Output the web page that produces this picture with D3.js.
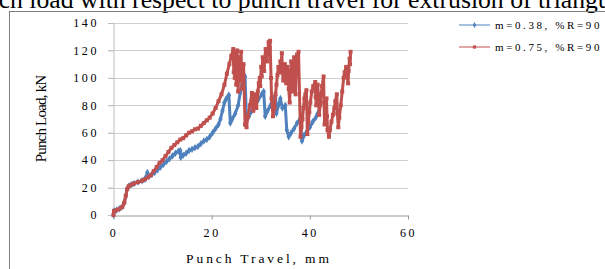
<!DOCTYPE html>
<html>
<head>
<meta charset="utf-8">
<script src="https://cdn.jsdelivr.net/npm/d3@7"></script>
<style>
  body { margin: 0; background: #fff; overflow: hidden; }
  svg { display: block; }
</style>
</head>
<body>
<script>
// Chart values
var titleText = "Punch load with respect to punch travel for extrusion of triangular section";
var xLabel = "Punch Travel, mm";
var yLabel = "Punch Load, kN";
var xTicks = [0, 20, 40, 60];
var yTicks = [0, 20, 40, 60, 80, 100, 120, 140];
var seriesNames = ["m=0.38, %R=90", "m=0.75, %R=90"];

// m=0.38 (blue) - [punch travel, punch load]
var blueData = [
  [0, 0], [0.1, 3], [0.6, 3.5], [1.2, 4.5], [1.8, 6], [2.2, 9], [2.5, 14], [2.8, 19], [3.1, 21],
  [3.6, 22], [4.2, 23], [5, 24], [5.8, 25], [6.4, 26], [6.9, 31], [7.2, 28], [7.8, 29.5],
  [8.4, 31], [9, 33], [9.6, 35], [10.2, 37], [10.8, 39], [11.4, 41], [12, 43], [12.6, 45],
  [13.2, 46.5], [13.6, 47], [13.7, 42], [14.2, 43.5], [14.8, 45], [15.4, 47], [16, 48],
  [16.6, 49], [17.2, 50], [17.8, 52], [18.4, 54], [19, 55], [19.6, 57], [20.2, 60], [20.8, 63],
  [21.4, 66], [21.8, 70], [22.2, 76], [22.6, 82], [23, 85], [23.5, 87.5], [23.8, 67], [24.2, 70],
  [24.8, 74], [25.4, 80], [25.8, 89], [26.2, 95], [26.5, 99], [26.8, 101], [27.1, 69], [27.6, 72],
  [28.2, 76], [28.8, 80], [29.5, 84], [30.2, 88], [30.6, 90], [30.9, 72], [31.4, 76], [32, 80],
  [32.6, 85], [33, 87], [33.2, 74], [33.6, 80], [34, 85], [34.4, 78], [35, 80], [35.3, 62],
  [35.7, 57], [36.2, 60], [36.8, 63], [37.4, 67], [38, 70], [38.4, 54], [38.8, 58], [39.4, 61],
  [40, 64], [40.6, 68], [41.2, 71], [41.6, 74]
];

// m=0.75 (red) - [punch travel, punch load]
var redData = [
  [0, 0], [0.1, 3], [0.6, 3.5], [1.2, 4.5], [1.8, 6], [2.2, 9], [2.5, 14], [2.8, 19], [3.1, 21],
  [3.6, 22], [4.2, 23], [5, 24], [5.8, 25], [6.4, 26], [7, 27.5], [7.6, 29], [8.2, 32], [8.8, 35],
  [9.4, 38], [10, 40], [10.6, 43], [11.2, 46], [11.8, 49], [12.4, 51], [13, 53], [13.6, 55],
  [14.2, 56], [14.8, 58], [15.4, 60], [16, 61], [16.6, 62.5], [17.2, 63], [17.8, 65], [18.4, 67],
  [19, 69], [19.6, 71], [20.2, 74], [20.8, 78], [21.4, 83], [22, 88], [22.6, 95], [23.1, 103],
  [23.6, 110], [24, 116], [24.4, 121],
  [24.5, 104], [24.6, 112], [24.7, 100], [24.8, 118], [24.9, 108], [25, 95], [25.1, 111],
  [25.2, 120], [25.3, 104], [25.4, 90], [25.5, 103], [25.6, 115], [25.7, 106], [25.8, 98],
  [25.9, 110], [26, 119], [26.1, 104], [26.2, 92], [26.4, 102], [26.5, 110],
  [26.8, 66], [27.1, 64], [27.4, 72], [27.8, 80], [28.2, 89],
  [28.4, 80], [28.5, 76], [28.7, 84], [28.8, 88], [29, 82], [29.1, 78], [29.3, 86], [29.4, 90],
  [29.6, 96], [29.8, 100], [29.9, 94], [30.1, 108], [30.2, 101], [30.4, 115], [30.5, 109],
  [30.7, 105], [30.8, 114], [31, 121], [31.1, 116], [31.3, 112], [31.4, 119], [31.6, 126],
  [31.8, 122], [31.9, 127],
  [32.1, 100], [32.2, 85], [32.5, 72], [32.8, 78], [33, 88], [33.2, 95], [33.4, 102], [33.6, 108],
  [33.8, 104], [34, 112], [34.1, 106], [34.3, 118],
  [34.4, 104], [34.6, 98], [34.7, 106], [34.9, 110], [35, 101], [35.2, 96], [35.4, 108],
  [35.6, 104], [35.7, 92], [35.9, 82], [36, 96], [36.2, 112], [36.3, 101], [36.5, 90],
  [36.6, 104], [36.8, 115], [36.9, 100], [37.1, 88], [37.2, 103], [37.4, 117], [37.5, 108],
  [37.7, 119],
  [38.1, 57], [38.3, 64], [38.5, 70], [38.7, 78], [38.9, 85], [39.1, 88], [39.3, 91],
  [39.5, 59], [39.7, 68], [39.9, 75], [40.1, 82], [40.4, 90], [40.7, 94], [41.1, 97],
  [41.2, 86], [41.3, 80], [41.5, 90], [41.6, 95], [41.8, 82], [41.9, 73], [42.1, 80], [42.3, 88],
  [42.5, 94], [42.8, 101], [42.9, 82], [43, 66], [43.2, 76], [43.4, 85], [43.5, 72], [43.6, 62],
  [43.9, 57], [44.1, 62], [44.4, 68], [44.7, 73], [45, 78], [45.2, 83], [45.5, 88],
  [45.6, 74], [45.8, 64], [46, 71], [46.3, 80], [46.6, 90], [46.9, 100], [47.1, 104],
  [47.4, 108], [47.6, 101], [47.8, 96], [47.9, 105], [48.1, 114], [48.2, 110], [48.3, 119]
];

var width = 605, height = 269;
var font = "'Liberation Serif', 'Times New Roman', serif";

var svg = d3.select("body").append("svg")
    .attr("width", width)
    .attr("height", height);

var x = d3.scaleLinear().domain([0, 60]).range([113.5, 408]);
var y = d3.scaleLinear().domain([0, 140]).range([215, 23]);

// caption line cut off at the top of the picture
var title = svg.append("text")
    .attr("y", 8)
    .attr("font-family", font)
    .attr("font-size", "25.7px")
    .attr("fill", "#000")
    .text(titleText);
var shift = title.node().getSubStringLength(0, titleText.indexOf("with"));
title.attr("x", 80 - shift);

// chart frame
svg.append("rect")
    .attr("x", 9.5)
    .attr("y", 11.5)
    .attr("width", 700)
    .attr("height", 300)
    .attr("fill", "none")
    .attr("stroke", "#808080");

// horizontal gridlines
svg.append("g").selectAll("line")
    .data(yTicks.filter(d => d > 0))
    .enter().append("line")
    .attr("x1", 108).attr("x2", x(60))
    .attr("y1", d => Math.round(y(d)) + 0.5)
    .attr("y2", d => Math.round(y(d)) + 0.5)
    .attr("stroke", "#cfcfcf");

// y axis
var yAxis = d3.axisLeft(y).tickValues(yTicks).tickSize(5.5).tickPadding(9);
svg.append("g")
    .attr("transform", "translate(" + x(0) + ",0)")
    .call(yAxis)
    .call(g => g.select(".domain").attr("stroke", "#bdbdbd"))
    .call(g => g.selectAll(".tick line").attr("stroke", "#bdbdbd"))
    .call(g => g.selectAll("text")
        .attr("font-family", font)
        .attr("font-size", "12px")
        .attr("letter-spacing", "2.6px")
        .attr("fill", "#000"));

// x axis
var xAxis = d3.axisBottom(x).tickValues(xTicks).tickSize(4).tickSizeOuter(0).tickPadding(9);
svg.append("g")
    .attr("transform", "translate(0," + (Math.round(y(0)) + 0.5) + ")")
    .call(xAxis)
    .call(g => g.select(".domain").attr("stroke", "#9a9a9a"))
    .call(g => g.selectAll(".tick line").attr("stroke", "#9a9a9a"))
    .call(g => g.selectAll("text")
        .attr("font-family", font)
        .attr("font-size", "12px")
        .attr("letter-spacing", "2.6px")
        .attr("fill", "#000"));

// axis titles
svg.append("text")
    .attr("x", 259)
    .attr("y", 263)
    .attr("text-anchor", "middle")
    .attr("font-family", font)
    .attr("font-size", "13.5px")
    .attr("letter-spacing", "2.9px")
    .text(xLabel);

svg.append("text")
    .attr("transform", "translate(46,119) rotate(-90)")
    .attr("text-anchor", "middle")
    .attr("font-family", font)
    .attr("font-size", "15px")
    .attr("letter-spacing", "-0.8px")
    .text(yLabel);

// series
var line = d3.line()
    .x(d => x(d[0]))
    .y(d => y(d[1]));

var series = [
    { name: seriesNames[0], data: blueData, color: "#4f81bd", shape: d3.symbolDiamond },
    { name: seriesNames[1], data: redData, color: "#c0504d", shape: d3.symbolSquare }
];

series.forEach(function (s) {
    svg.append("path")
        .datum(s.data)
        .attr("d", line)
        .attr("fill", "none")
        .attr("stroke", s.color)
        .attr("stroke-width", 3)
        .attr("stroke-linejoin", "round");
    svg.append("g").selectAll("path")
        .data(s.data)
        .enter().append("path")
        .attr("transform", d => "translate(" + x(d[0]) + "," + y(d[1]) + ")")
        .attr("d", d3.symbol().type(s.shape).size(16))
        .attr("fill", s.color);
});

// legend
var legend = svg.append("g").selectAll("g")
    .data(series)
    .enter().append("g")
    .attr("transform", (d, i) => "translate(459," + (25 + i * 22) + ")");

legend.append("line")
    .attr("x1", 0).attr("x2", 31)
    .attr("stroke", d => d.color)
    .attr("stroke-width", 1);

legend.append("path")
    .attr("transform", "translate(15.5,0)")
    .attr("d", d => d3.symbol().type(d.shape).size(10)())
    .attr("fill", d => d.color);

legend.append("text")
    .attr("x", 36)
    .attr("y", 4)
    .attr("font-family", font)
    .attr("font-size", "11px")
    .attr("letter-spacing", "2.6px")
    .text(d => d.name);
</script>
</body>
</html>
